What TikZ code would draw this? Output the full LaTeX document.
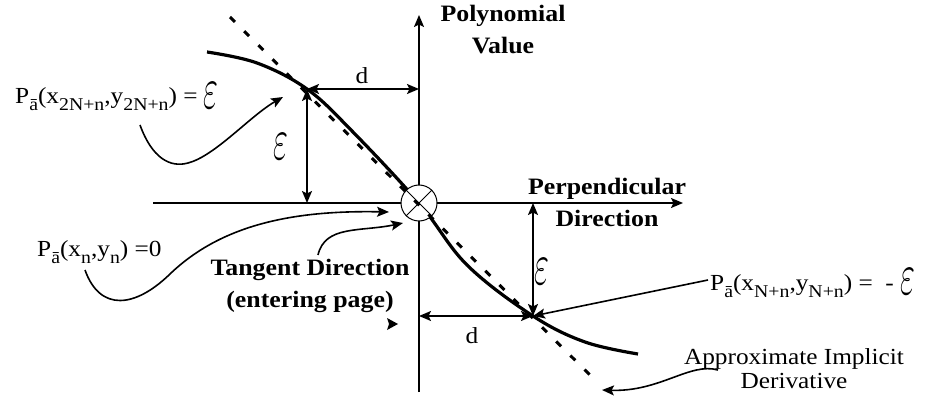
\documentclass[tikz,border=0pt]{standalone}
\usepackage{fontspec}
\setmainfont[FakeStretch=1.1]{Liberation Serif}
\usetikzlibrary{arrows.meta}
\newcommand\sbs[1]{\raisebox{-7pt}{\fontsize{18}{18}\selectfont #1}}
\newcommand\Pa{P\sbs{ā}}
\newcommand\epsg{\raisebox{-5pt}{\scalebox{1.3}[2.4]{$\varepsilon$}}}
\begin{document}
\begin{tikzpicture}[x=1pt,y=-1pt,
  >={Stealth[length=12pt,width=10pt,inset=2.5pt]},
  axis/.style={line width=2pt,->},
  meas/.style={line width=1.8pt,<->},
  curv/.style={line width=3.2pt},
  tang/.style={line width=3pt,dash pattern=on 7pt off 13pt},
  call/.style={line width=1.6pt,->},
  lab/.style={font=\fontsize{23}{27}\selectfont,inner sep=0pt},
  blab/.style={font=\fontsize{23.5}{32}\selectfont\bfseries,align=center,inner sep=0pt},
  rlab/.style={font=\fontsize{23}{24}\selectfont,align=center,inner sep=0pt}]
\useasboundingbox (0,0) rectangle (941,403);
% key points
\coordinate (O) at (419,203);
\coordinate (A) at (307,89);
\coordinate (B) at (533,316);
\coordinate (Vtop) at (419,15);
\coordinate (Vbot) at (419,392);
\coordinate (Hl) at (153,203);
\coordinate (Hr) at (683,203);
\coordinate (Ds) at (230,17);
\coordinate (De) at (597,382);
% axes
\draw[axis] (Vbot) -- (Vtop);
\draw[axis] (Hl) -- (Hr);
% curve
\draw[curv] plot[smooth,tension=0.6] coordinates {(207,52) (257,63) (A) (352,131) (O) (467,265) (B) (585,342) (638,354)};
% origin symbol
\node[circle,draw,fill=white,minimum size=36pt,inner sep=0pt,line width=1pt] (C) at (O) {};
\draw[line width=1pt] (C.north west) -- (C.south east);
\draw[line width=1pt] (C.north east) -- (C.south west);
% tangent (dashed)
\draw[tang] (Ds) -- (De);
% measurement arrows
\draw[meas] (A) -- (A -| O);
\draw[meas] (A) -- (A |- O);
\draw[meas] (B -| O) -- (B);
\draw[meas] (B |- O) -- (B);
% labels
\node[lab] (dU) at (362,76) {d};
\node[lab] (dL) at (472,336) {d};
\node[lab] (eU) at (281,147) {\scalebox{1.3}[2.4]{$\varepsilon$}};
\node[lab] (eL) at (542,272) {\scalebox{1.3}[2.4]{$\varepsilon$}};
\node[blab] (PV) at (503,30) {Polynomial\\Value};
\node[blab] (PD) at (607,202) {Perpendicular\\Direction};
\node[blab] (TD) at (310,286) {Tangent Direction\\(entering page)};
\node[rlab] (AD) at (794,369) {Approximate Implicit\\Derivative};
\node[lab,anchor=base west] (L1) at (15,104) {\Pa(x\sbs{2N+n},y\sbs{2N+n}) = \epsg};
\node[lab,anchor=base west] (L2) at (37,256) {\Pa(x\sbs{n},y\sbs{n}) =0};
\node[lab,anchor=base west] (L3) at (710,290) {\Pa(x\sbs{N+n},y\sbs{N+n}) = \ -\ \epsg};
% callouts
\coordinate (c1s) at (140,125); \coordinate (c1e) at (283,97);
\draw[call] (c1s) .. controls (152,158) and (170,168) .. (188,163) .. controls (215,156) and (250,116) .. (c1e);
\coordinate (c2s) at (85,270); \coordinate (c2e) at (389,212);
\draw[call] (c2s) .. controls (100,312) and (135,308) .. (170,274) .. controls (220,226) and (290,210) .. (c2e);
\coordinate (c3s) at (318,255); \coordinate (c3e) at (403,223);
\draw[call] (c3s) .. controls (325,225) and (360,232) .. (c3e);
\coordinate (c5s) at (708,280);
\draw[call] (c5s) -- (B);
\coordinate (c6s) at (718,370); \coordinate (c6e) at (602,390);
\draw[call] (c6s) .. controls (690,362) and (660,392) .. (c6e);
% stray arrowhead
\fill (387,318) -- (398,324) -- (387,330) -- (389,324) -- cycle;
\end{tikzpicture}
\end{document}
